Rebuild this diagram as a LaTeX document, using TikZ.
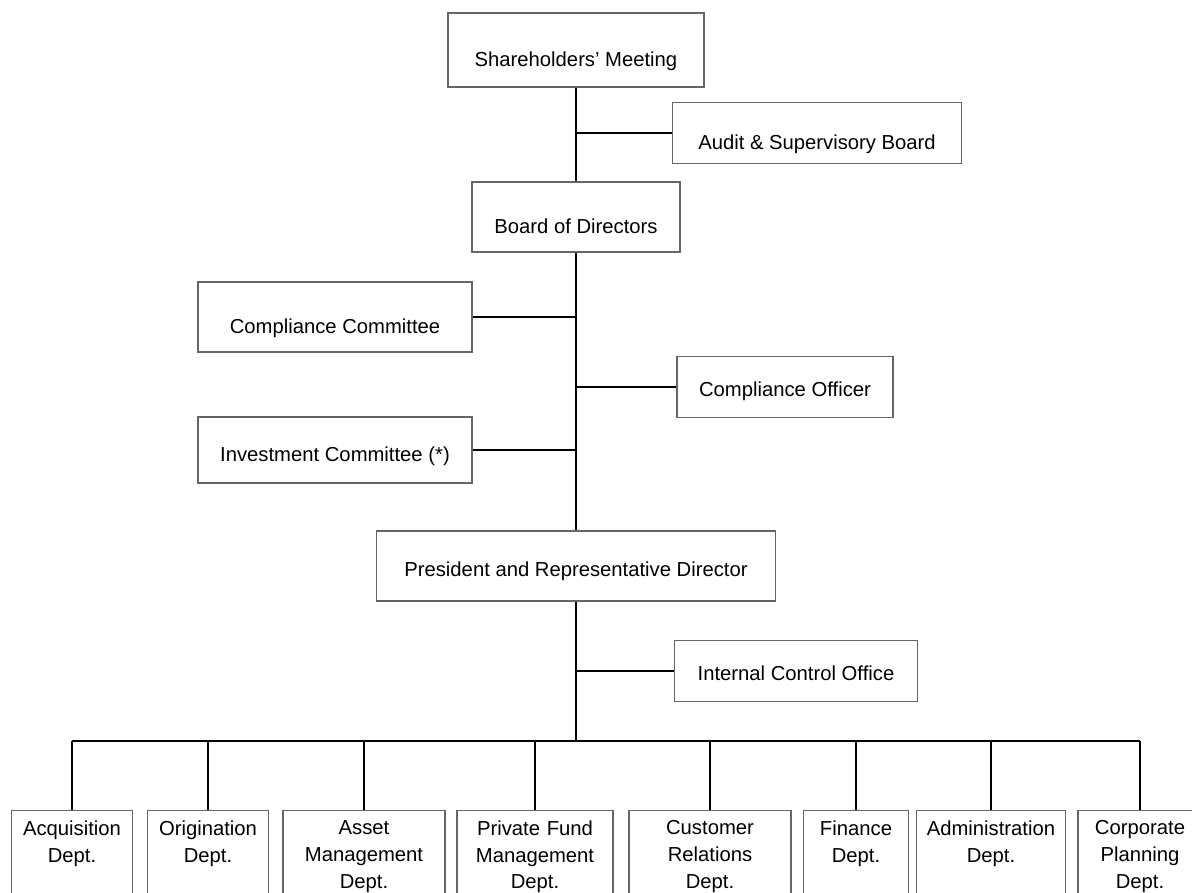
\documentclass[tikz,border=0pt]{standalone}
\usepackage{fontspec}
\setmainfont{Liberation Sans}

\tikzset{
  unit/.style={draw=black!60, line width=1pt, inner sep=0pt,
    text height=0.45cm, text depth=0pt, font=\fontsize{14.4}{19}\selectfont},
  lowtext/.style={unit, text height=0.8cm},
  dept/.style={draw=black!60, line width=1pt, anchor=north, inner xsep=0pt,
    inner ysep=0.25cm, align=center, text depth=3cm,
    font=\fontsize{14.4}{19}\selectfont},
  link/.style={line width=1.2pt}
}

\begin{document}
\begin{tikzpicture}[x=0.025cm, y=-0.025cm]
\useasboundingbox (0,0) rectangle (1192,893);
\clip (0,0) rectangle (1192,893);

\node[lowtext, minimum width=6.4cm, minimum height=1.85cm] (share) at (576,50) {Shareholders' Meeting};
\node[lowtext, minimum width=7.225cm, minimum height=1.525cm] (audit) at (817,133) {Audit \& Supervisory Board};
\node[lowtext, minimum width=5.2cm, minimum height=1.75cm] (board) at (576,217) {Board of Directors};
\node[lowtext, minimum width=6.85cm, minimum height=1.75cm] (compcom) at (335,317) {Compliance Committee};
\node[unit, minimum width=5.4cm, minimum height=1.525cm] (compoff) at (785,387) {Compliance Officer};
\node[unit, text height=0.55cm, minimum width=6.85cm, minimum height=1.65cm] (invcom) at (335,450) {Investment Committee (*)};
\node[unit, text height=0.5cm, minimum width=9.975cm, minimum height=1.75cm] (pres) at (576,566) {President and Representative Director};
\node[unit, minimum width=6.075cm, minimum height=1.525cm] (ico) at (796,671) {Internal Control Office};

\coordinate (bus) at (576,741);

% departments
\node[dept, text width=3.025cm] (acq) at (72,810) {Acquisition\\Dept.};
\node[dept, text width=3.025cm] (orig) at (208,810) {Origination\\Dept.};
\node[dept, text width=4.05cm] (asset) at (364,810) {Asset\\Management\\Dept.};
\node[dept, text width=3.9cm] (pfund) at (535,810) {Private Fund\\Management\\Dept.};
\node[dept, text width=4.05cm] (cust) at (710,810) {Customer\\Relations\\Dept.};
\node[dept, text width=2.625cm] (fin) at (856,810) {Finance\\Dept.};
\node[dept, text width=3.725cm] (admin) at (991,810) {Administration\\Dept.};
\node[dept, text width=3.1cm] (corp) at (1140,810) {Corporate\\Planning\\Dept.};

% trunk
\draw[link] (share.south) -- (board.north);
\draw[link] (board.south) -- (pres.north);
\draw[link] (pres.south) -- (pres.south |- bus);

% side branches
\draw[link] (audit.west) -- (audit.west -| share.south);
\draw[link] (compcom.east) -- (compcom.east -| board.south);
\draw[link] (compoff.west) -- (compoff.west -| board.south);
\draw[link] (invcom.east) -- (invcom.east -| board.south);
\draw[link] (ico.west) -- (ico.west -| pres.south);

% bus and drops
\draw[link] (acq.north |- bus) -- (corp.north |- bus);
\foreach \d in {acq,orig,asset,pfund,cust,fin,admin,corp}
    \draw[link] (\d.north) -- (\d.north |- bus);
\end{tikzpicture}
\end{document}
